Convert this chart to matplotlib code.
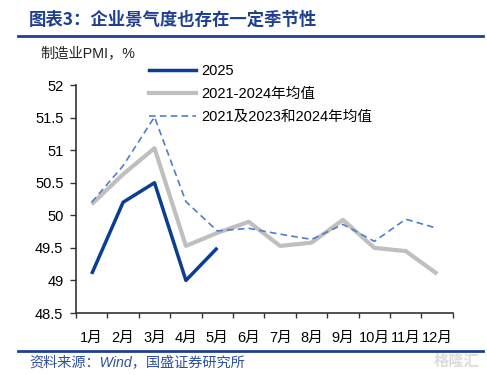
import matplotlib.pyplot as plt
from matplotlib.lines import Line2D

plt.rcParams['font.family'] = ['Liberation Sans', 'Noto Sans CJK SC', 'DejaVu Sans']

months = ['1月', '2月', '3月', '4月', '5月', '6月', '7月', '8月', '9月', '10月', '11月', '12月']
pmi_2025 = [49.1, 50.2, 50.5, 49.0, 49.5]
avg_2021_2024 = [50.17, 50.63, 51.03, 49.53, 49.73, 49.9, 49.53, 49.58, 49.93, 49.5, 49.45, 49.1]
avg_21_23_24 = [50.2, 50.76, 51.51, 50.21, 49.76, 49.8, 49.71, 49.63, 49.86, 49.6, 49.94, 49.8]

dark_blue = '#0a3e94'
gray = '#bfbfbf'
dash_blue = '#4f7fca'

fig = plt.figure(figsize=(4.87, 3.75), dpi=100)
ax = fig.add_axes([0.156, 0.1653, 0.774, 0.608])

x = list(range(len(months)))
ax.plot(x, avg_2021_2024, color=gray, lw=3, solid_capstyle='butt')
ax.plot(x, avg_21_23_24, color=dash_blue, lw=1.2, ls=(0, (4, 2.5)))
ax.plot(x[:len(pmi_2025)], pmi_2025, color=dark_blue, lw=2.5, solid_capstyle='butt')

ax.set_xlim(-0.5, 11.5)
ax.set_ylim(48.5, 52)
ax.set_yticks([48.5, 49, 49.5, 50, 50.5, 51, 51.5, 52])
ax.set_yticklabels(['48.5', '49', '49.5', '50', '50.5', '51', '51.5', '52'])
ax.set_xticks(x)
ax.set_xticklabels(months)
ax.set_xticks([i - 0.5 for i in range(13)], minor=True)
ax.tick_params(axis='x', which='major', length=0, pad=13, labelsize=10.5)
ax.tick_params(axis='x', which='minor', length=3.5, width=1, color='#333333')
ax.tick_params(axis='y', length=4, width=1, color='#333333', labelsize=10.5, pad=5)
for s in ['top', 'right']:
    ax.spines[s].set_visible(False)
for s in ['left', 'bottom']:
    ax.spines[s].set_color('#333333')
    ax.spines[s].set_linewidth(1.2)

handles = [
    Line2D([], [], color=dark_blue, lw=2.5),
    Line2D([], [], color=gray, lw=3),
    Line2D([], [], color=dash_blue, lw=1.2, ls=(0, (4, 2.5))),
]
labels = ['2025', '2021-2024年均值', '2021及2023和2024年均值']
fig.legend(handles, labels, loc='upper left', bbox_to_anchor=(0.295, 0.845),
           frameon=False, fontsize=10.5, handlelength=3.2, handletextpad=0.35,
           labelspacing=0.62, borderaxespad=0)

fig.text(0.082, 0.858, '制造业PMI，%', fontsize=10.3, color='#222222', va='center')

fig.text(0.06, 0.948, '图表3：企业景气度也存在一定季节性', fontsize=12.5, fontweight='bold',
         color='#1f3f8f', va='center', family=['Noto Sans CJK SC', 'DejaVu Sans'])
fig.add_artist(Line2D([0.037, 0.992], [0.905, 0.905], color='#1f3f8f', lw=2))
fig.add_artist(Line2D([0.037, 0.992], [0.064, 0.064], color='#1f3f8f', lw=2))
fig.text(0.06, 0.035, '资料来源：Wind，国盛证券研究所', fontsize=10.2, color='#2f4f9f',
         va='center', style='italic')
fig.text(0.985, 0.035, '格隆汇', fontsize=11, color='#dcdcdc', ha='right', va='center',
         fontweight='bold')

fig.savefig('out.png', dpi=100)
